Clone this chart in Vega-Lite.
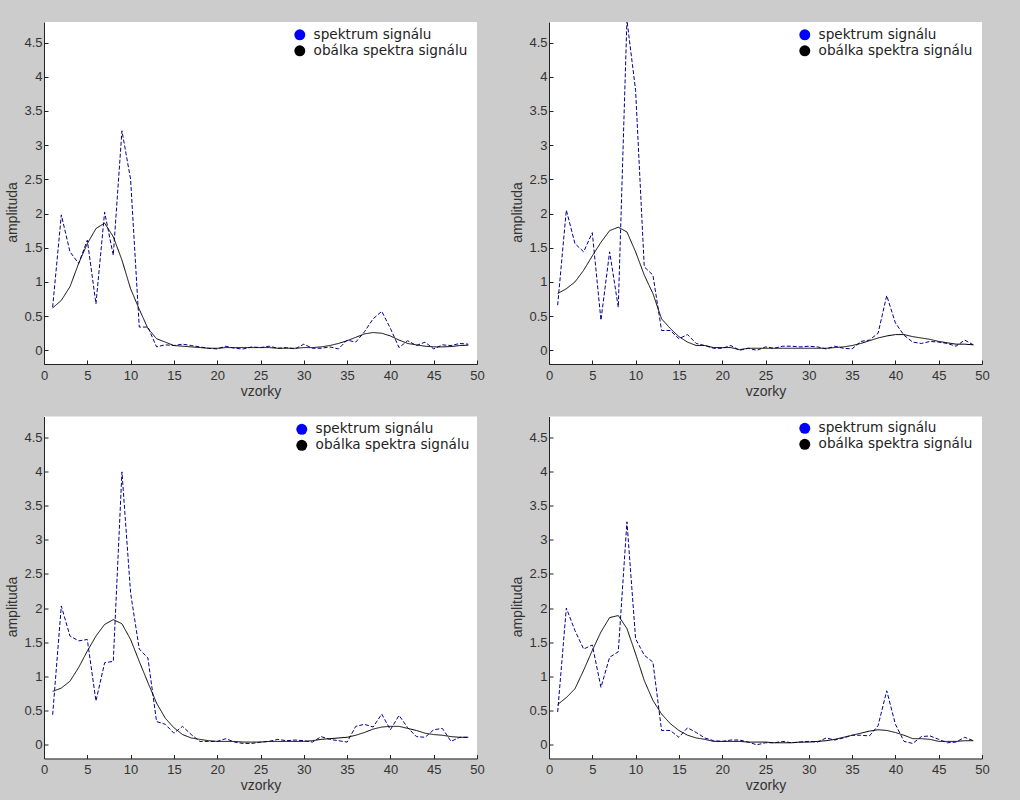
{
  "$schema": "https://vega.github.io/schema/vega-lite/v6.json",
  "background": "#cccccc",
  "padding": {"left": 5, "top": 22, "right": 37, "bottom": 20},
  "bounds": "flush",
  "columns": 2,
  "spacing": {"row": 52.5, "column": 72},
  "resolve": {"scale": {"color": "independent", "strokeDash": "independent"}, "legend": {"color": "independent"}},
  "datasets": {
    "p1": [
      {"x":1,"spektrum signálu":0.63,"obálka spektra signálu":0.62},{"x":2,"spektrum signálu":1.98,"obálka spektra signálu":0.73},{"x":3,"spektrum signálu":1.44,"obálka spektra signálu":0.93},{"x":4,"spektrum signálu":1.27,"obálka spektra signálu":1.27},{"x":5,"spektrum signálu":1.61,"obálka spektra signálu":1.56},{"x":6,"spektrum signálu":0.68,"obálka spektra signálu":1.78},{"x":7,"spektrum signálu":2.02,"obálka spektra signálu":1.86},{"x":8,"spektrum signálu":1.39,"obálka spektra signálu":1.66},{"x":9,"spektrum signálu":3.21,"obálka spektra signálu":1.32},{"x":10,"spektrum signálu":2.5,"obálka spektra signálu":0.9},
      {"x":11,"spektrum signálu":0.34,"obálka spektra signálu":0.6},{"x":12,"spektrum signálu":0.34,"obálka spektra signálu":0.32},{"x":13,"spektrum signálu":0.05,"obálka spektra signálu":0.17},{"x":14,"spektrum signálu":0.08,"obálka spektra signálu":0.12},{"x":15,"spektrum signálu":0.07,"obálka spektra signálu":0.07},{"x":16,"spektrum signálu":0.09,"obálka spektra signálu":0.06},{"x":17,"spektrum signálu":0.07,"obálka spektra signálu":0.05},{"x":18,"spektrum signálu":0.05,"obálka spektra signálu":0.04},{"x":19,"spektrum signálu":0.03,"obálka spektra signálu":0.03},{"x":20,"spektrum signálu":0.02,"obálka spektra signálu":0.03},
      {"x":21,"spektrum signálu":0.06,"obálka spektra signálu":0.04},{"x":22,"spektrum signálu":0.03,"obálka spektra signálu":0.04},{"x":23,"spektrum signálu":0.02,"obálka spektra signálu":0.04},{"x":24,"spektrum signálu":0.05,"obálka spektra signálu":0.04},{"x":25,"spektrum signálu":0.04,"obálka spektra signálu":0.04},{"x":26,"spektrum signálu":0.06,"obálka spektra signálu":0.04},{"x":27,"spektrum signálu":0.03,"obálka spektra signálu":0.03},{"x":28,"spektrum signálu":0.04,"obálka spektra signálu":0.03},{"x":29,"spektrum signálu":0.02,"obálka spektra signálu":0.03},{"x":30,"spektrum signálu":0.09,"obálka spektra signálu":0.04},
      {"x":31,"spektrum signálu":0.03,"obálka spektra signálu":0.04},{"x":32,"spektrum signálu":0.03,"obálka spektra signálu":0.05},{"x":33,"spektrum signálu":0.05,"obálka spektra signálu":0.07},{"x":34,"spektrum signálu":0.02,"obálka spektra signálu":0.1},{"x":35,"spektrum signálu":0.15,"obálka spektra signálu":0.14},{"x":36,"spektrum signálu":0.12,"obálka spektra signálu":0.19},{"x":37,"spektrum signálu":0.27,"obálka spektra signálu":0.24},{"x":38,"spektrum signálu":0.46,"obálka spektra signálu":0.26},{"x":39,"spektrum signálu":0.57,"obálka spektra signálu":0.25},{"x":40,"spektrum signálu":0.32,"obálka spektra signálu":0.21},
      {"x":41,"spektrum signálu":0.04,"obálka spektra signálu":0.15},{"x":42,"spektrum signálu":0.14,"obálka spektra signálu":0.1},{"x":43,"spektrum signálu":0.07,"obálka spektra signálu":0.08},{"x":44,"spektrum signálu":0.12,"obálka spektra signálu":0.06},{"x":45,"spektrum signálu":0.02,"obálka spektra signálu":0.05},{"x":46,"spektrum signálu":0.08,"obálka spektra signálu":0.05},{"x":47,"spektrum signálu":0.07,"obálka spektra signálu":0.055},{"x":48,"spektrum signálu":0.1,"obálka spektra signálu":0.07},{"x":49,"spektrum signálu":0.09,"obálka spektra signálu":0.075}
    ],
    "p2": [
      {"x":1,"spektrum signálu":0.66,"obálka spektra signálu":0.83},{"x":2,"spektrum signálu":2.05,"obálka spektra signálu":0.9},{"x":3,"spektrum signálu":1.56,"obálka spektra signálu":1.0},{"x":4,"spektrum signálu":1.44,"obálka spektra signálu":1.17},{"x":5,"spektrum signálu":1.72,"obálka spektra signálu":1.38},{"x":6,"spektrum signálu":0.44,"obálka spektra signálu":1.58},{"x":7,"spektrum signálu":1.44,"obálka spektra signálu":1.75},{"x":8,"spektrum signálu":0.63,"obálka spektra signálu":1.8},{"x":9,"spektrum signálu":4.83,"obálka spektra signálu":1.73},{"x":10,"spektrum signálu":3.8,"obálka spektra signálu":1.44},
      {"x":11,"spektrum signálu":1.22,"obálka spektra signálu":1.1},{"x":12,"spektrum signálu":1.1,"obálka spektra signálu":0.83},{"x":13,"spektrum signálu":0.29,"obálka spektra signálu":0.46},{"x":14,"spektrum signálu":0.29,"obálka spektra signálu":0.32},{"x":15,"spektrum signálu":0.17,"obálka spektra signálu":0.2},{"x":16,"spektrum signálu":0.23,"obálka spektra signálu":0.12},{"x":17,"spektrum signálu":0.1,"obálka spektra signálu":0.07},{"x":18,"spektrum signálu":0.07,"obálka spektra signálu":0.07},{"x":19,"spektrum signálu":0.03,"obálka spektra signálu":0.04},{"x":20,"spektrum signálu":0.03,"obálka spektra signálu":0.04},
      {"x":21,"spektrum signálu":0.07,"obálka spektra signálu":0.04},{"x":22,"spektrum signálu":0.0,"obálka spektra signálu":0.01},{"x":23,"spektrum signálu":0.03,"obálka spektra signálu":0.03},{"x":24,"spektrum signálu":0.0,"obálka spektra signálu":0.03},{"x":25,"spektrum signálu":0.05,"obálka spektra signálu":0.03},{"x":26,"spektrum signálu":0.03,"obálka spektra signálu":0.03},{"x":27,"spektrum signálu":0.06,"obálka spektra signálu":0.03},{"x":28,"spektrum signálu":0.06,"obálka spektra signálu":0.03},{"x":29,"spektrum signálu":0.05,"obálka spektra signálu":0.03},{"x":30,"spektrum signálu":0.06,"obálka spektra signálu":0.03},
      {"x":31,"spektrum signálu":0.05,"obálka spektra signálu":0.03},{"x":32,"spektrum signálu":0.02,"obálka spektra signálu":0.03},{"x":33,"spektrum signálu":0.06,"obálka spektra signálu":0.04},{"x":34,"spektrum signálu":0.03,"obálka spektra signálu":0.05},{"x":35,"spektrum signálu":0.02,"obálka spektra signálu":0.07},{"x":36,"spektrum signálu":0.13,"obálka spektra signálu":0.1},{"x":37,"spektrum signálu":0.15,"obálka spektra signálu":0.14},{"x":38,"spektrum signálu":0.25,"obálka spektra signálu":0.18},{"x":39,"spektrum signálu":0.8,"obálka spektra signálu":0.21},{"x":40,"spektrum signálu":0.4,"obálka spektra signálu":0.23},
      {"x":41,"spektrum signálu":0.22,"obálka spektra signálu":0.23},{"x":42,"spektrum signálu":0.12,"obálka spektra signálu":0.2},{"x":43,"spektrum signálu":0.1,"obálka spektra signálu":0.18},{"x":44,"spektrum signálu":0.13,"obálka spektra signálu":0.16},{"x":45,"spektrum signálu":0.12,"obálka spektra signálu":0.13},{"x":46,"spektrum signálu":0.1,"obálka spektra signálu":0.11},{"x":47,"spektrum signálu":0.06,"obálka spektra signálu":0.09},{"x":48,"spektrum signálu":0.15,"obálka spektra signálu":0.09},{"x":49,"spektrum signálu":0.08,"obálka spektra signálu":0.08}
    ],
    "p3": [
      {"x":1,"spektrum signálu":0.44,"obálka spektra signálu":0.78},{"x":2,"spektrum signálu":2.03,"obálka spektra signálu":0.83},{"x":3,"spektrum signálu":1.59,"obálka spektra signálu":0.93},{"x":4,"spektrum signálu":1.52,"obálka spektra signálu":1.13},{"x":5,"spektrum signálu":1.54,"obálka spektra signálu":1.37},{"x":6,"spektrum signálu":0.64,"obálka spektra signálu":1.59},{"x":7,"spektrum signálu":1.2,"obálka spektra signálu":1.76},{"x":8,"spektrum signálu":1.22,"obálka spektra signálu":1.83},{"x":9,"spektrum signálu":3.99,"obálka spektra signálu":1.77},{"x":10,"spektrum signálu":2.22,"obálka spektra signálu":1.54},
      {"x":11,"spektrum signálu":1.4,"obálka spektra signálu":1.22},{"x":12,"spektrum signálu":1.27,"obálka spektra signálu":0.91},{"x":13,"spektrum signálu":0.34,"obálka spektra signálu":0.61},{"x":14,"spektrum signálu":0.3,"obálka spektra signálu":0.39},{"x":15,"spektrum signálu":0.17,"obálka spektra signálu":0.25},{"x":16,"spektrum signálu":0.27,"obálka spektra signálu":0.15},{"x":17,"spektrum signálu":0.15,"obálka spektra signálu":0.1},{"x":18,"spektrum signálu":0.05,"obálka spektra signálu":0.08},{"x":19,"spektrum signálu":0.05,"obálka spektra signálu":0.06},{"x":20,"spektrum signálu":0.05,"obálka spektra signálu":0.05},
      {"x":21,"spektrum signálu":0.09,"obálka spektra signálu":0.05},{"x":22,"spektrum signálu":0.04,"obálka spektra signálu":0.05},{"x":23,"spektrum signálu":0.02,"obálka spektra signálu":0.04},{"x":24,"spektrum signálu":0.02,"obálka spektra signálu":0.04},{"x":25,"spektrum signálu":0.04,"obálka spektra signálu":0.04},{"x":26,"spektrum signálu":0.05,"obálka spektra signálu":0.05},{"x":27,"spektrum signálu":0.08,"obálka spektra signálu":0.05},{"x":28,"spektrum signálu":0.06,"obálka spektra signálu":0.05},{"x":29,"spektrum signálu":0.07,"obálka spektra signálu":0.05},{"x":30,"spektrum signálu":0.06,"obálka spektra signálu":0.05},
      {"x":31,"spektrum signálu":0.04,"obálka spektra signálu":0.06},{"x":32,"spektrum signálu":0.12,"obálka spektra signálu":0.08},{"x":33,"spektrum signálu":0.08,"obálka spektra signálu":0.09},{"x":34,"spektrum signálu":0.06,"obálka spektra signálu":0.1},{"x":35,"spektrum signálu":0.04,"obálka spektra signálu":0.11},{"x":36,"spektrum signálu":0.27,"obálka spektra signálu":0.14},{"x":37,"spektrum signálu":0.3,"obálka spektra signálu":0.18},{"x":38,"spektrum signálu":0.26,"obálka spektra signálu":0.23},{"x":39,"spektrum signálu":0.45,"obálka spektra signálu":0.26},{"x":40,"spektrum signálu":0.22,"obálka spektra signálu":0.27},
      {"x":41,"spektrum signálu":0.43,"obálka spektra signálu":0.27},{"x":42,"spektrum signálu":0.25,"obálka spektra signálu":0.24},{"x":43,"spektrum signálu":0.12,"obálka spektra signálu":0.21},{"x":44,"spektrum signálu":0.11,"obálka spektra signálu":0.17},{"x":45,"spektrum signálu":0.22,"obálka spektra signálu":0.15},{"x":46,"spektrum signálu":0.24,"obálka spektra signálu":0.14},{"x":47,"spektrum signálu":0.05,"obálka spektra signálu":0.12},{"x":48,"spektrum signálu":0.11,"obálka spektra signálu":0.11},{"x":49,"spektrum signálu":0.11,"obálka spektra signálu":0.11}
    ],
    "p4": [
      {"x":1,"spektrum signálu":0.48,"obálka spektra signálu":0.59},{"x":2,"spektrum signálu":2.0,"obálka spektra signálu":0.69},{"x":3,"spektrum signálu":1.67,"obálka spektra signálu":0.82},{"x":4,"spektrum signálu":1.4,"obálka spektra signálu":1.09},{"x":5,"spektrum signálu":1.46,"obálka spektra signálu":1.38},{"x":6,"spektrum signálu":0.84,"obálka spektra signálu":1.65},{"x":7,"spektrum signálu":1.28,"obálka spektra signálu":1.86},{"x":8,"spektrum signálu":1.36,"obálka spektra signálu":1.89},{"x":9,"spektrum signálu":3.26,"obálka spektra signálu":1.7},{"x":10,"spektrum signálu":1.55,"obálka spektra signálu":1.33},
      {"x":11,"spektrum signálu":1.31,"obálka spektra signálu":0.94},{"x":12,"spektrum signálu":1.21,"obálka spektra signálu":0.65},{"x":13,"spektrum signálu":0.21,"obálka spektra signálu":0.45},{"x":14,"spektrum signálu":0.21,"obálka spektra signálu":0.31},{"x":15,"spektrum signálu":0.11,"obálka spektra signálu":0.21},{"x":16,"spektrum signálu":0.25,"obálka spektra signálu":0.14},{"x":17,"spektrum signálu":0.18,"obálka spektra signálu":0.1},{"x":18,"spektrum signálu":0.1,"obálka spektra signálu":0.08},{"x":19,"spektrum signálu":0.06,"obálka spektra signálu":0.05},{"x":20,"spektrum signálu":0.05,"obálka spektra signálu":0.05},
      {"x":21,"spektrum signálu":0.07,"obálka spektra signálu":0.05},{"x":22,"spektrum signálu":0.07,"obálka spektra signálu":0.05},{"x":23,"spektrum signálu":0.04,"obálka spektra signálu":0.04},{"x":24,"spektrum signálu":0.0,"obálka spektra signálu":0.04},{"x":25,"spektrum signálu":0.03,"obálka spektra signálu":0.04},{"x":26,"spektrum signálu":0.03,"obálka spektra signálu":0.03},{"x":27,"spektrum signálu":0.05,"obálka spektra signálu":0.03},{"x":28,"spektrum signálu":0.03,"obálka spektra signálu":0.03},{"x":29,"spektrum signálu":0.04,"obálka spektra signálu":0.04},{"x":30,"spektrum signálu":0.05,"obálka spektra signálu":0.04},
      {"x":31,"spektrum signálu":0.04,"obálka spektra signálu":0.05},{"x":32,"spektrum signálu":0.1,"obálka spektra signálu":0.06},{"x":33,"spektrum signálu":0.07,"obálka spektra signálu":0.08},{"x":34,"spektrum signálu":0.1,"obálka spektra signálu":0.11},{"x":35,"spektrum signálu":0.14,"obálka spektra signálu":0.14},{"x":36,"spektrum signálu":0.14,"obálka spektra signálu":0.17},{"x":37,"spektrum signálu":0.13,"obálka spektra signálu":0.2},{"x":38,"spektrum signálu":0.28,"obálka spektra signálu":0.22},{"x":39,"spektrum signálu":0.79,"obálka spektra signálu":0.21},{"x":40,"spektrum signálu":0.3,"obálka spektra signálu":0.18},
      {"x":41,"spektrum signálu":0.05,"obálka spektra signálu":0.14},{"x":42,"spektrum signálu":0.02,"obálka spektra signálu":0.09},{"x":43,"spektrum signálu":0.12,"obálka spektra signálu":0.09},{"x":44,"spektrum signálu":0.13,"obálka spektra signálu":0.08},{"x":45,"spektrum signálu":0.08,"obálka spektra signálu":0.05},{"x":46,"spektrum signálu":0.03,"obálka spektra signálu":0.05},{"x":47,"spektrum signálu":0.04,"obálka spektra signálu":0.05},{"x":48,"spektrum signálu":0.11,"obálka spektra signálu":0.06},{"x":49,"spektrum signálu":0.06,"obálka spektra signálu":0.06}
    ]
  },
  "config": {
    "view": {"fill": "white", "stroke": null},
    "font": "Liberation Sans",
    "axis": {
      "grid": false,
      "domainColor": "#222222",
      "tickColor": "#222222",
      "tickSize": -4,
      "labelFlush": false,
      "labelColor": "#333333",
      "titleColor": "#333333",
      "labelFontSize": 13,
      "titleFontSize": 14,
      "titleFontWeight": "normal"
    },
    "legend": {
      "orient": "none",
      "title": null,
      "symbolType": "circle",
      "symbolSize": 120,
      "symbolStrokeWidth": 0,
      "labelOffset": 7,
      "labelFont": "DejaVu Sans",
      "labelFontSize": 13.6,
      "labelColor": "#222222",
      "rowPadding": 1
    }
  },
  "concat": [
    {
      "width": 433, "height": 342,
      "data": {"name": "p1"},
      "transform": [{"fold": ["spektrum signálu", "obálka spektra signálu"], "as": ["serie", "y"]}],
      "mark": {"type": "line", "strokeWidth": 1, "clip": true},
      "encoding": {
        "x": {"field": "x", "type": "quantitative", "title": "vzorky", "scale": {"domain": [0, 50], "nice": false}, "axis": {"values": [0,5,10,15,20,25,30,35,40,45,50], "labelPadding": 9, "titlePadding": 2}},
        "y": {"field": "y", "type": "quantitative", "title": "amplituda", "scale": {"domain": [-0.2, 4.8], "nice": false}, "axis": {"values": [0,0.5,1,1.5,2,2.5,3,3.5,4,4.5], "format": ".1~f", "labelPadding": 6, "titlePadding": 4, "titleY": 190}},
        "color": {"field": "serie", "type": "nominal", "scale": {"domain": ["spektrum signálu", "obálka spektra signálu"], "range": ["#000090", "#000000"]}, "legend": {"legendX": 249, "legendY": 6, "encode": {"symbols": {"update": {"fill": {"signal": "datum.value === 'spektrum signálu' ? '#0000ff' : '#000000'"}, "strokeWidth": {"value": 0}, "strokeDash": {"value": []}}}}}},
        "strokeDash": {"field": "serie", "type": "nominal", "scale": {"domain": ["spektrum signálu", "obálka spektra signálu"], "range": [[4, 2], [1, 0]]}, "legend": null}
      }
    },
    {
      "width": 433, "height": 342,
      "data": {"name": "p2"},
      "transform": [{"fold": ["spektrum signálu", "obálka spektra signálu"], "as": ["serie", "y"]}],
      "mark": {"type": "line", "strokeWidth": 1, "clip": true},
      "encoding": {
        "x": {"field": "x", "type": "quantitative", "title": "vzorky", "scale": {"domain": [0, 50], "nice": false}, "axis": {"values": [0,5,10,15,20,25,30,35,40,45,50], "labelPadding": 9, "titlePadding": 2}},
        "y": {"field": "y", "type": "quantitative", "title": "amplituda", "scale": {"domain": [-0.2, 4.8], "nice": false}, "axis": {"values": [0,0.5,1,1.5,2,2.5,3,3.5,4,4.5], "format": ".1~f", "labelPadding": 6, "titlePadding": 4, "titleY": 190}},
        "color": {"field": "serie", "type": "nominal", "scale": {"domain": ["spektrum signálu", "obálka spektra signálu"], "range": ["#000090", "#000000"]}, "legend": {"legendX": 249, "legendY": 6, "encode": {"symbols": {"update": {"fill": {"signal": "datum.value === 'spektrum signálu' ? '#0000ff' : '#000000'"}, "strokeWidth": {"value": 0}, "strokeDash": {"value": []}}}}}},
        "strokeDash": {"field": "serie", "type": "nominal", "scale": {"domain": ["spektrum signálu", "obálka spektra signálu"], "range": [[4, 2], [1, 0]]}, "legend": null}
      }
    },
    {
      "width": 433, "height": 342,
      "data": {"name": "p3"},
      "transform": [{"fold": ["spektrum signálu", "obálka spektra signálu"], "as": ["serie", "y"]}],
      "mark": {"type": "line", "strokeWidth": 1, "clip": true},
      "encoding": {
        "x": {"field": "x", "type": "quantitative", "title": "vzorky", "scale": {"domain": [0, 50], "nice": false}, "axis": {"values": [0,5,10,15,20,25,30,35,40,45,50], "labelPadding": 9, "titlePadding": 2}},
        "y": {"field": "y", "type": "quantitative", "title": "amplituda", "scale": {"domain": [-0.2, 4.8], "nice": false}, "axis": {"values": [0,0.5,1,1.5,2,2.5,3,3.5,4,4.5], "format": ".1~f", "labelPadding": 6, "titlePadding": 4, "titleY": 190}},
        "color": {"field": "serie", "type": "nominal", "scale": {"domain": ["spektrum signálu", "obálka spektra signálu"], "range": ["#000090", "#000000"]}, "legend": {"legendX": 251, "legendY": 6, "encode": {"symbols": {"update": {"fill": {"signal": "datum.value === 'spektrum signálu' ? '#0000ff' : '#000000'"}, "strokeWidth": {"value": 0}, "strokeDash": {"value": []}}}}}},
        "strokeDash": {"field": "serie", "type": "nominal", "scale": {"domain": ["spektrum signálu", "obálka spektra signálu"], "range": [[4, 2], [1, 0]]}, "legend": null}
      }
    },
    {
      "width": 433, "height": 342,
      "data": {"name": "p4"},
      "transform": [{"fold": ["spektrum signálu", "obálka spektra signálu"], "as": ["serie", "y"]}],
      "mark": {"type": "line", "strokeWidth": 1, "clip": true},
      "encoding": {
        "x": {"field": "x", "type": "quantitative", "title": "vzorky", "scale": {"domain": [0, 50], "nice": false}, "axis": {"values": [0,5,10,15,20,25,30,35,40,45,50], "labelPadding": 9, "titlePadding": 2}},
        "y": {"field": "y", "type": "quantitative", "title": "amplituda", "scale": {"domain": [-0.2, 4.8], "nice": false}, "axis": {"values": [0,0.5,1,1.5,2,2.5,3,3.5,4,4.5], "format": ".1~f", "labelPadding": 6, "titlePadding": 4, "titleY": 190}},
        "color": {"field": "serie", "type": "nominal", "scale": {"domain": ["spektrum signálu", "obálka spektra signálu"], "range": ["#000090", "#000000"]}, "legend": {"legendX": 249, "legendY": 5, "encode": {"symbols": {"update": {"fill": {"signal": "datum.value === 'spektrum signálu' ? '#0000ff' : '#000000'"}, "strokeWidth": {"value": 0}, "strokeDash": {"value": []}}}}}},
        "strokeDash": {"field": "serie", "type": "nominal", "scale": {"domain": ["spektrum signálu", "obálka spektra signálu"], "range": [[4, 2], [1, 0]]}, "legend": null}
      }
    }
  ]
}
